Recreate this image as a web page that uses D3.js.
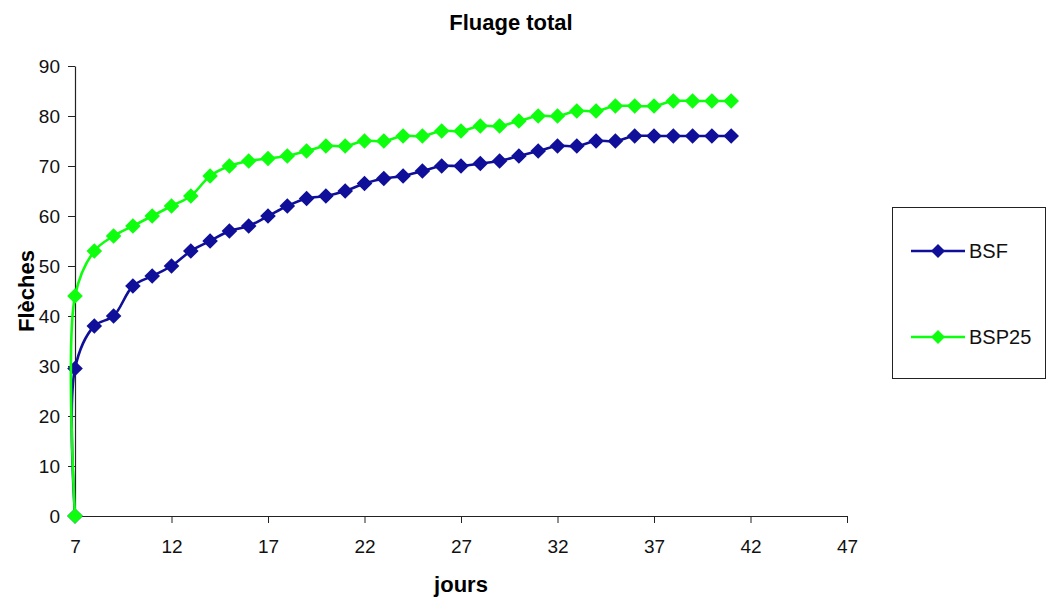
<!DOCTYPE html>
<html>
<head>
<meta charset="utf-8">
<script src="https://cdn.jsdelivr.net/npm/d3@7"></script>
<style>
  html, body { margin: 0; padding: 0; background: #fff; }
  svg { display: block; font-family: "Liberation Sans", Arial, sans-serif; }
</style>
</head>
<body>
<svg id="chart" width="1047" height="603"></svg>
<script>
// Creep deflection readings per day
const days = [7, 7, 8, 9, 10, 11, 12, 13, 14, 15, 16, 17, 18, 19, 20, 21, 22, 23, 24,
  25, 26, 27, 28, 29, 30, 31, 32, 33, 34, 35, 36, 37, 38, 39, 40, 41];
const bsf = [0, 29.5, 38, 40, 46, 48, 50, 53, 55, 57, 58, 60, 62, 63.5, 64, 65, 66.5, 67.5, 68,
  69, 70, 70, 70.5, 71, 72, 73, 74, 74, 75, 75, 76, 76, 76, 76, 76, 76];
const bsp25 = [0, 44, 53, 56, 58, 60, 62, 64, 68, 70, 71, 71.5, 72, 73, 74, 74, 75, 75, 76,
  76, 77, 77, 78, 78, 79, 80, 80, 81, 81, 82, 82, 82, 83, 83, 83, 83];
const seriesNames = ["BSF", "BSP25"];
const seriesColors = ["#0f0f99", "#0dff0d"];
const xTicks = [7, 12, 17, 22, 27, 32, 37, 42, 47];
const yTicks = [0, 10, 20, 30, 40, 50, 60, 70, 80, 90];

const svg = d3.select("#chart");
const plotLeft = 75, plotRight = 847, plotTop = 66, plotBottom = 516;

const x = d3.scaleLinear().domain([7, 47]).range([plotLeft, plotRight]);
const y = d3.scaleLinear().domain([0, 90]).range([plotBottom, plotTop]);

// Title
svg.append("text")
  .attr("x", 511).attr("y", 30)
  .attr("text-anchor", "middle")
  .attr("font-weight", "bold").attr("font-size", 22)
  .text("Fluage total");

// Axes
const xAxis = svg.append("g")
  .attr("transform", `translate(0,${plotBottom})`)
  .call(d3.axisBottom(x).tickValues(xTicks).tickSize(7).tickSizeOuter(0).tickPadding(17));
const yAxis = svg.append("g")
  .attr("transform", `translate(${plotLeft},0)`)
  .call(d3.axisLeft(y).tickValues(yTicks).tickSize(7).tickSizeOuter(0).tickPadding(8));
[xAxis, yAxis].forEach(g => {
  g.select(".domain").attr("stroke", "#222").attr("stroke-width", 1.2);
  g.selectAll(".tick line").attr("stroke", "#222");
  g.selectAll(".tick text").attr("font-size", 19).attr("fill", "#111")
    .attr("font-family", "'Liberation Sans', Arial, sans-serif");
});
yAxis.selectAll(".tick text").attr("dy", "0.36em");

// Axis titles
svg.append("text")
  .attr("x", 461).attr("y", 592)
  .attr("text-anchor", "middle")
  .attr("font-weight", "bold").attr("font-size", 22)
  .text("jours");
svg.append("text")
  .attr("transform", "translate(34,291) rotate(-90)")
  .attr("text-anchor", "middle")
  .attr("font-weight", "bold").attr("font-size", 22)
  .text("Flèches");

// Series
const line = d3.line()
  .x(d => x(d[0])).y(d => y(d[1]))
  .curve(d3.curveCatmullRom.alpha(0.5));
const diamond = s => `M0,${-s}L${s},0L0,${s}L${-s},0Z`;

[bsf, bsp25].forEach((vals, i) => {
  const pts = days.map((d, k) => [d, vals[k]]);
  const g = svg.append("g");
  g.append("path")
    .attr("d", line(pts))
    .attr("fill", "none")
    .attr("stroke", seriesColors[i])
    .attr("stroke-width", 2.6);
  g.selectAll("path.pt")
    .data(pts)
    .join("path")
    .attr("class", "pt")
    .attr("transform", d => `translate(${x(d[0])},${y(d[1])})`)
    .attr("d", diamond(7.8))
    .attr("fill", seriesColors[i]);
});

// Legend
const lg = svg.append("g");
lg.append("rect")
  .attr("x", 892.5).attr("y", 207.5)
  .attr("width", 153).attr("height", 171)
  .attr("fill", "#fff").attr("stroke", "#222").attr("stroke-width", 1);
seriesNames.forEach((name, i) => {
  const cy = 251 + i * 86;
  lg.append("line")
    .attr("x1", 911).attr("x2", 965).attr("y1", cy).attr("y2", cy)
    .attr("stroke", seriesColors[i]).attr("stroke-width", 2.6);
  lg.append("path")
    .attr("transform", `translate(938,${cy})`)
    .attr("d", diamond(7))
    .attr("fill", seriesColors[i]);
  lg.append("text")
    .attr("x", 969).attr("y", cy).attr("dy", "0.36em")
    .attr("font-size", 20).attr("fill", "#111")
    .text(name);
});
</script>
</body>
</html>
